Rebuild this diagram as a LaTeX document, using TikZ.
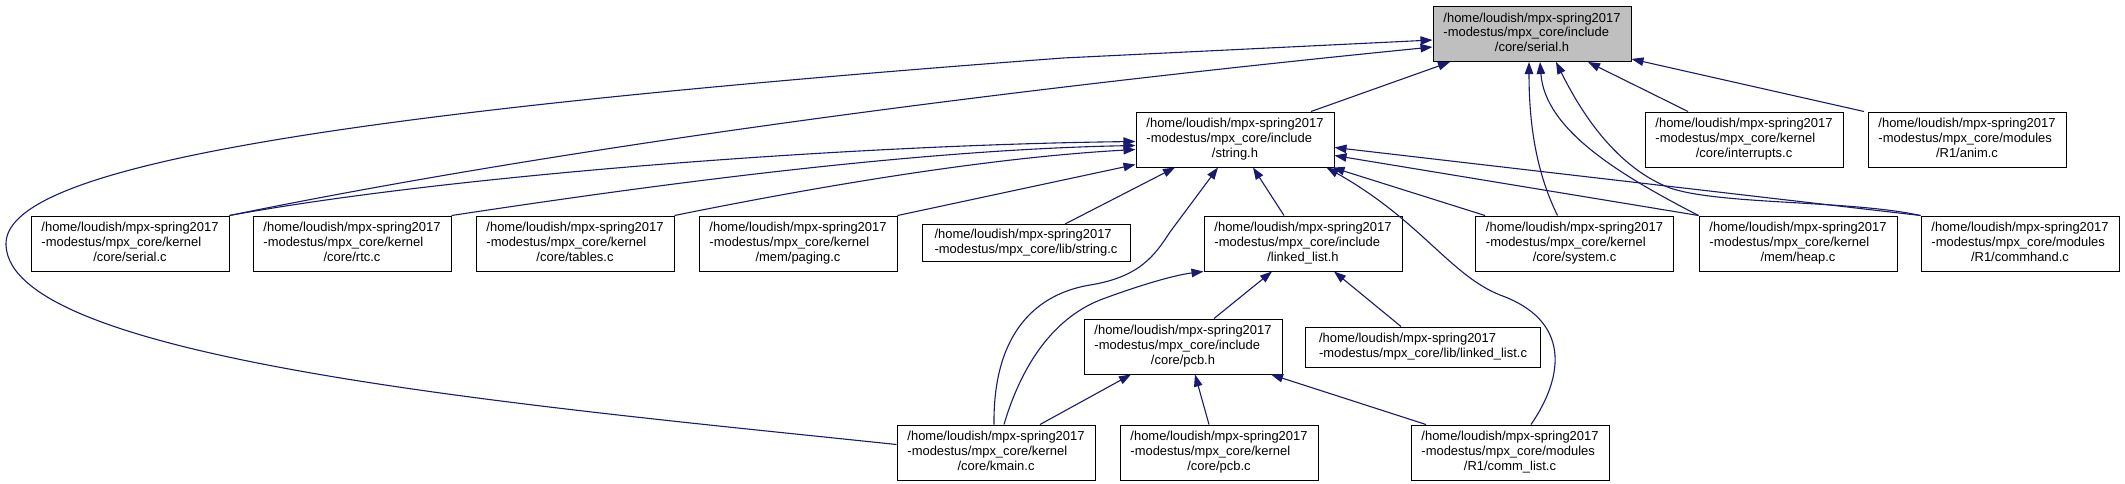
\documentclass[tikz,border=0pt]{standalone}
\usepackage{fontspec}
\setmainfont{Liberation Sans}
\usetikzlibrary{arrows.meta,calc}
\definecolor{edgeblue}{HTML}{191970}
\definecolor{mainfill}{HTML}{BFBFBF}
\newcommand{\threel}[3]{\begin{tabular}{@{}l@{}}#1\\#2\\\multicolumn{1}{@{}c@{}}{#3}\end{tabular}}
\newcommand{\twol}[2]{\begin{tabular}{@{}l@{}}#1\\\multicolumn{1}{@{}c@{}}{#2}\end{tabular}}
\newcommand{\hm}{/home/loudish/mpx-spring2017}
\begin{document}
\begin{tikzpicture}[x=1pt,y=-1pt,
  box/.style={draw=black, fill=white, line width=1pt, minimum width=198pt, minimum height=55pt, inner sep=0pt, font=\fontsize{12.95}{14.7}\selectfont},
  e/.style={draw=edgeblue, line width=1.1pt, -{Triangle[length=12pt,width=8.5pt]}, fill=none}]
\useasboundingbox (0,0) rectangle (2125,483);
% row 0
\node[box, fill=mainfill] (serialh) at (1532,34) {\threel{\hm}{-modestus/mpx\_core/include}{/core/serial.h}};
% row 1
\node[box] (stringh) at (1235,139.5) {\threel{\hm}{-modestus/mpx\_core/include}{/string.h}};
\node[box] (interrupts) at (1744,139.5) {\threel{\hm}{-modestus/mpx\_core/kernel}{/core/interrupts.c}};
\node[box] (anim) at (1967,139.5) {\threel{\hm}{-modestus/mpx\_core/modules}{/R1/anim.c}};
% row 2
\node[box] (serialc) at (130,243.5) {\threel{\hm}{-modestus/mpx\_core/kernel}{/core/serial.c}};
\node[box] (rtc) at (352,243.5) {\threel{\hm}{-modestus/mpx\_core/kernel}{/core/rtc.c}};
\node[box] (tables) at (575,243.5) {\threel{\hm}{-modestus/mpx\_core/kernel}{/core/tables.c}};
\node[box] (paging) at (798,243.5) {\threel{\hm}{-modestus/mpx\_core/kernel}{/mem/paging.c}};
\node[box, minimum width=208pt, minimum height=37pt] (stringc) at (1026,243) {\twol{\hm}{-modestus/mpx\_core/lib/string.c}};
\node[box] (linkedlisth) at (1303,243.5) {\threel{\hm}{-modestus/mpx\_core/include}{/linked\_list.h}};
\node[box] (system) at (1574.5,243.5) {\threel{\hm}{-modestus/mpx\_core/kernel}{/core/system.c}};
\node[box] (heap) at (1798,243.5) {\threel{\hm}{-modestus/mpx\_core/kernel}{/mem/heap.c}};
\node[box] (commhand) at (2020,243.5) {\threel{\hm}{-modestus/mpx\_core/modules}{/R1/commhand.c}};
% row 3
\node[box] (pcbh) at (1183,346.5) {\threel{\hm}{-modestus/mpx\_core/include}{/core/pcb.h}};
\node[box, minimum width=235pt, minimum height=40pt] (linkedlistc) at (1423,347) {\twol{\hm}{-modestus/mpx\_core/lib/linked\_list.c}};
% row 4
\node[box] (kmain) at (996,452.5) {\threel{\hm}{-modestus/mpx\_core/kernel}{/core/kmain.c}};
\node[box] (pcbc) at (1219,452.5) {\threel{\hm}{-modestus/mpx\_core/kernel}{/core/pcb.c}};
\node[box] (commlist) at (1510,452.5) {\threel{\hm}{-modestus/mpx\_core/modules}{/R1/comm\_list.c}};

% edges into serial.h
\draw[e] ($(stringh.north)+(76,0)$) -- ($(serialh.south)+(-82,0)$);
\draw[e] (serialc.north east) .. controls (500,160) and (900,100) .. ($(serialh.west)+(0,13)$);
\draw[e] ($(kmain.west)+(0,-8)$) .. controls (520,405) and (10,360) .. (6,245)
   .. controls (3,170) and (300,115) .. (1063,58) -- ($(serialh.west)+(0,6)$);
\draw[e] ($(system.north)+(-17,0)$) .. controls (1535,170) and (1529,120) .. ($(serialh.south)+(-3,0)$);
\draw[e] (heap.north west) .. controls (1620,175) and (1545,130) .. ($(serialh.south)+(8,0)$);
\draw[e] (commhand.north west) .. controls (1850,200) and (1720,205) .. (1670,188)
   .. controls (1610,165) and (1575,100) .. ($(serialh.south)+(24,0)$);
\draw[e] ($(interrupts.north)+(-56,0)$) -- ($(serialh.south)+(56,0)$);
\draw[e] ($(anim.north)+(-103,0)$) -- ($(serialh.south east)+(0,-3)$);

% edges into string.h
\draw[e] (serialc.north east) .. controls (450,175) and (850,145) .. ($(stringh.west)+(0,2)$);
\draw[e] (rtc.north east) .. controls (620,190) and (900,150) .. ($(stringh.west)+(0,6)$);
\draw[e] (tables.north east) .. controls (800,190) and (980,158) .. ($(stringh.west)+(0,10)$);
\draw[e] (paging.north east) -- ($(stringh.west)+(0,25)$);
\draw[e] ($(stringc.north)+(39,0)$) -- ($(stringh.south)+(-60,0)$);
\draw[e] ($(kmain.north)+(-2,0)$) .. controls (993,340) and (1030,295) .. (1090,285)
   .. controls (1140,277) and (1155,255) .. (1170,232) -- ($(stringh.south)+(-17,0)$);
\draw[e] ($(linkedlisth.north)+(-19,0)$) -- ($(stringh.south)+(18,0)$);
\draw[e] ($(commlist.north)+(21,0)$) .. controls (1565,375) and (1570,320) .. (1500,295)
   .. controls (1450,275) and (1420,220) .. ($(stringh.south east)+(-8,0)$);
\draw[e] ($(system.north west)+(10,0)$) -- ($(stringh.south east)+(-2,0)$);
\draw[e] (heap.north west) -- ($(stringh.east)+(0,16)$);
\draw[e] (commhand.north west) -- ($(stringh.east)+(0,8)$);

% edges into linked_list.h
\draw[e] ($(kmain.north)+(8,0)$) .. controls (1020,370) and (1050,320) .. (1100,300)
   .. controls (1140,285) and (1175,275) .. (linkedlisth.south west);
\draw[e] ($(pcbh.north)+(31,0)$) -- ($(linkedlisth.south)+(-31,0)$);
\draw[e] ($(linkedlistc.north)+(-22,0)$) -- ($(linkedlisth.south)+(31,0)$);

% edges into pcb.h
\draw[e] ($(kmain.north)+(44,0)$) -- ($(pcbh.south)+(-52,0)$);
\draw[e] ($(pcbc.north)+(-10,0)$) -- ($(pcbh.south)+(12,0)$);
\draw[e] ($(commlist.north)+(-84,0)$) -- ($(pcbh.south)+(88,0)$);
\end{tikzpicture}
\end{document}
